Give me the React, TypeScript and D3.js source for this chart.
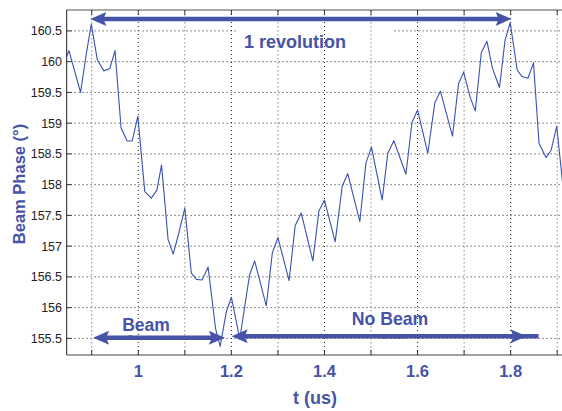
import React from "react";
import * as d3 from "d3";

const T = [0.846, 0.851, 0.876, 0.888, 0.899, 0.912, 0.926, 0.939, 0.95, 0.963, 0.976, 0.987, 0.999, 1.014, 1.028, 1.04, 1.05, 1.064, 1.075, 1.087, 1.1, 1.114, 1.125, 1.137, 1.15, 1.166, 1.176, 1.189, 1.2, 1.218, 1.239, 1.25, 1.275, 1.288, 1.3, 1.324, 1.337, 1.35, 1.375, 1.388, 1.4, 1.423, 1.438, 1.45, 1.476, 1.489, 1.501, 1.524, 1.536, 1.549, 1.575, 1.588, 1.6, 1.622, 1.637, 1.649, 1.675, 1.688, 1.699, 1.713, 1.724, 1.737, 1.749, 1.761, 1.776, 1.788, 1.799, 1.814, 1.824, 1.837, 1.849, 1.861, 1.876, 1.887, 1.899, 1.912];
const PHASE = [160.08, 160.18, 159.5, 160.11, 160.61, 160.03, 159.85, 159.89, 160.18, 158.92, 158.71, 158.71, 159.11, 157.885, 157.78, 157.91, 158.32, 157.11, 156.87, 157.21, 157.62, 156.56, 156.46, 156.45, 156.66, 155.66, 155.37, 155.93, 156.17, 155.49, 156.53, 156.76, 156.03, 156.89, 157.14, 156.44, 157.33, 157.54, 156.76, 157.57, 157.75, 157.07, 157.97, 158.18, 157.4, 158.35, 158.61, 157.75, 158.51, 158.715, 158.17, 159.01, 159.215, 158.51, 159.33, 159.52, 158.79, 159.64, 159.83, 159.42, 159.2, 160.15, 160.33, 159.89, 159.58, 160.35, 160.635, 159.865, 159.76, 159.73, 159.98, 158.67, 158.44, 158.56, 158.95, 157.99];

const X_TICKS = [1, 1.2, 1.4, 1.6, 1.8];
const X_LABELS = ["1", "1.2", "1.4", "1.6", "1.8"];
const X_GRID = [0.9, 1.0, 1.1, 1.2, 1.3, 1.4, 1.5, 1.6, 1.7, 1.8, 1.9];
const Y_TICKS = [155.5, 156, 156.5, 157, 157.5, 158, 158.5, 159, 159.5, 160, 160.5];
const Y_LABELS = ["155.5", "156", "156.5", "157", "157.5", "158", "158.5", "159", "159.5", "160", "160.5"];

const REV_ARROW = [0.897, 1.802];
const REV_LEVEL = 160.695;
const BEAM_ARROW = [0.903, 1.186];
const BEAM_LEVEL = 155.51;
const NOBEAM_ARROW = [1.2006, 1.86];
const NOBEAM_HEAD_TIP = 1.834;
const NOBEAM_LEVEL = 155.535;

const W = 562;
const H = 411;
const BLUE = "#4653a6";
const LINE = "#3a52b0";

export default function App() {
  const x = d3.scaleLinear().domain([0.846, 1.912]).range([66.6, 562.8]);
  const y = d3.scaleLinear().domain([155.23, 160.84]).range([355, 10]);
  const [x0, x1] = x.range();
  const [yb, yt] = y.range();

  const line = d3
    .line<number>()
    .x((_, i) => x(T[i]))
    .y((d) => y(d));

  const head = (tx: number, ty: number, dir: number, L = 16, hw = 7) => {
    const bx = tx - dir * L;
    return `M${tx},${ty} L${bx},${ty - hw} L${bx + dir * 3},${ty} L${bx},${ty + hw} Z`;
  };

  const revY = y(REV_LEVEL);
  const beamY = y(BEAM_LEVEL);
  const nbY = y(NOBEAM_LEVEL);

  return (
    <svg
      width={W}
      height={H}
      style={{ position: "absolute", left: 0, top: 0, background: "#fff" }}
      fontFamily="Arial, 'Liberation Sans', sans-serif"
    >
      <rect width={W} height={H} fill="#fff" />
      {/* horizontal grid */}
      {Y_TICKS.map((v) => (
        <line key={"h" + v} x1={x0} x2={x1} y1={y(v)} y2={y(v)} stroke="#222" strokeWidth={1} strokeDasharray="1,3" />
      ))}
      {/* label background for "1 revolution" */}
      <rect x={236} y={23} width={158} height={33} fill="#fff" />
      {/* vertical grid */}
      {X_GRID.map((t, i) => (
        <line
          key={"v" + t}
          x1={x(t)}
          x2={x(t)}
          y1={yt}
          y2={yb}
          stroke={i % 2 === 1 ? "#222" : "#888"}
          strokeWidth={1}
          strokeDasharray={i % 2 === 1 ? "1,3" : "1.5,2.5"}
        />
      ))}
      {/* axes box */}
      <line x1={x0} x2={x1} y1={yt} y2={yt} stroke="#555" strokeWidth={1.2} />
      <line x1={x0} x2={x1} y1={yb} y2={yb} stroke="#444" strokeWidth={1.2} />
      <line x1={x0} x2={x0} y1={yt} y2={yb} stroke="#444" strokeWidth={1.2} />
      {X_GRID.map((t) => (
        <g key={"tk" + t}>
          <line x1={x(t)} x2={x(t)} y1={yt} y2={yt + 5} stroke="#333" strokeWidth={1} />
          <line x1={x(t)} x2={x(t)} y1={yb} y2={yb - 5} stroke="#333" strokeWidth={1} />
        </g>
      ))}
      {Y_TICKS.map((v) => (
        <line key={"ty" + v} x1={x0} x2={x0 + 5} y1={y(v)} y2={y(v)} stroke="#333" strokeWidth={1} />
      ))}
      {/* y tick labels */}
      {Y_TICKS.map((v, i) => (
        <text key={"yl" + v} x={62} y={y(v)} dy="0.35em" textAnchor="end" fontSize={12.5} fill="#222">
          {Y_LABELS[i]}
        </text>
      ))}
      {/* x tick labels */}
      {X_TICKS.map((t, i) => (
        <text key={"xl" + t} x={x(t)} y={377} textAnchor="middle" fontSize={16.5} fontWeight="bold" fill={BLUE}>
          {X_LABELS[i]}
        </text>
      ))}
      <text x={315} y={404} textAnchor="middle" fontSize={18} fontWeight="bold" fill={BLUE}>
        t (us)
      </text>
      <text
        transform={`translate(25,184) rotate(-90)`}
        textAnchor="middle"
        fontSize={16.5}
        fontWeight="bold"
        fill={BLUE}
      >
        Beam Phase (°)
      </text>

      {/* data */}
      <path d={line(PHASE) ?? ""} fill="none" stroke={LINE} strokeWidth={1.1} strokeLinejoin="round" />

      {/* small underlying labels */}
      <text x={128} y={340} fontSize={7} fill="#555">Beam</text>
      <text x={378} y={339} fontSize={7} fill="#555">No beam</text>

      {/* 1 revolution arrow */}
      <line x1={x(REV_ARROW[0]) + 10} x2={x(REV_ARROW[1]) - 10} y1={revY} y2={revY} stroke={BLUE} strokeWidth={4.5} />
      <path d={head(x(REV_ARROW[0]), revY, -1)} fill={BLUE} />
      <path d={head(x(REV_ARROW[1]), revY, 1)} fill={BLUE} />
      <text x={295} y={48} textAnchor="middle" fontSize={18} fontWeight="bold" fill={BLUE}>
        1 revolution
      </text>

      {/* Beam arrow */}
      <line x1={x(BEAM_ARROW[0]) + 10} x2={x(BEAM_ARROW[1]) - 10} y1={beamY} y2={beamY} stroke={BLUE} strokeWidth={4.5} />
      <path d={head(x(BEAM_ARROW[0]), beamY, -1)} fill={BLUE} />
      <path d={head(x(BEAM_ARROW[1]), beamY, 1)} fill={BLUE} />
      <text x={146} y={331} textAnchor="middle" fontSize={17.5} fontWeight="bold" fill={BLUE}>
        Beam
      </text>

      {/* No Beam arrow */}
      <line x1={x(NOBEAM_ARROW[0]) + 10} x2={x(NOBEAM_ARROW[1])} y1={nbY} y2={nbY} stroke={BLUE} strokeWidth={4.5} />
      <path d={head(x(NOBEAM_ARROW[0]), nbY, -1)} fill={BLUE} />
      <path d={head(x(NOBEAM_HEAD_TIP), nbY, 1)} fill={BLUE} />
      <text x={390} y={325} textAnchor="middle" fontSize={17.7} fontWeight="bold" fill={BLUE}>
        No Beam
      </text>
    </svg>
  );
}
